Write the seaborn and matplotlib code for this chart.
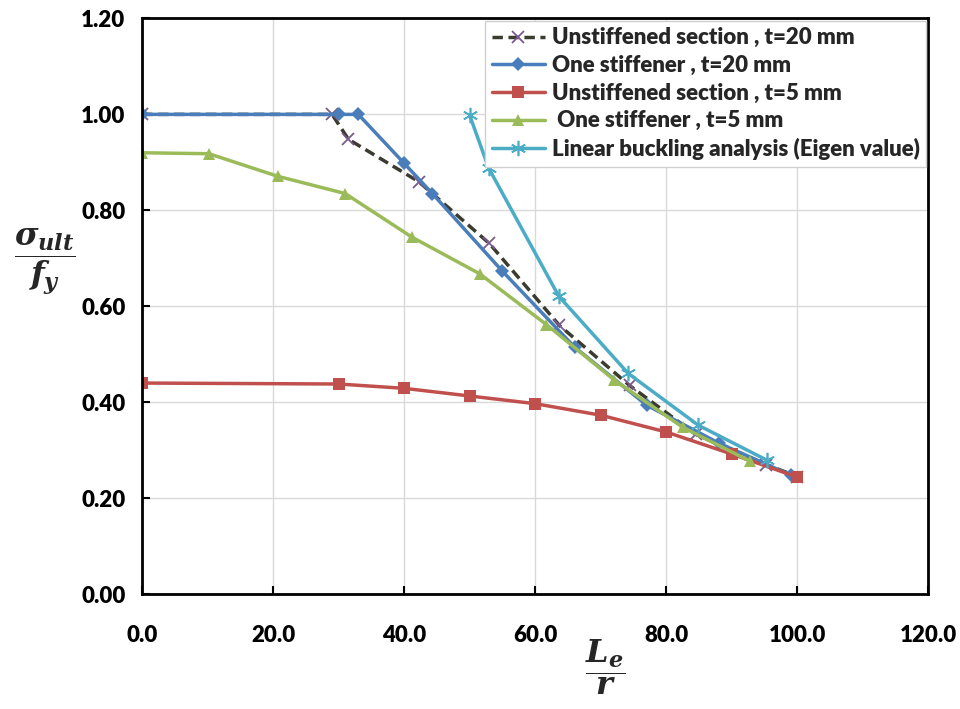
import seaborn as sns
import matplotlib.pyplot as plt

# L_e / r  vs  sigma_ult / f_y
unstiff20_x = [0, 29, 31.5, 42.2, 53, 63.7, 74.4, 84.5, 95.3, 100]
unstiff20_y = [1.0, 1.0, 0.948, 0.86, 0.731, 0.56, 0.435, 0.333, 0.27, 0.245]

stiff20_x = [0, 30, 33, 40, 44.3, 55, 66, 77, 88, 99]
stiff20_y = [1.0, 1.0, 1.0, 0.898, 0.835, 0.673, 0.515, 0.394, 0.315, 0.248]

unstiff5_x = [0, 30, 40, 50, 60, 70, 80, 90, 100]
unstiff5_y = [0.44, 0.438, 0.429, 0.413, 0.397, 0.373, 0.338, 0.292, 0.244]

stiff5_x = [0, 10.2, 20.7, 31, 41.2, 51.5, 61.7, 72.1, 82.5, 92.8]
stiff5_y = [0.92, 0.918, 0.871, 0.835, 0.744, 0.668, 0.562, 0.446, 0.348, 0.277]

eigen_x = [50, 52.9, 63.6, 74.2, 84.9, 95.4]
eigen_y = [0.998, 0.888, 0.621, 0.46, 0.352, 0.279]

labels = ['Unstiffened section , t=20 mm', 'One stiffener , t=20 mm',
          'Unstiffened section , t=5 mm', ' One stiffener , t=5 mm',
          'Linear buckling analysis (Eigen value)']

x_ticks = [0, 20, 40, 60, 80, 100, 120]
y_ticks = [0.0, 0.2, 0.4, 0.6, 0.8, 1.0, 1.2]

sns.set_theme(style="white")
plt.rcParams['font.family'] = ['Lato', 'DejaVu Sans']
plt.rcParams['mathtext.fontset'] = 'custom'
plt.rcParams['mathtext.it'] = 'DejaVu Serif:italic:bold'
plt.rcParams['mathtext.rm'] = 'DejaVu Serif:bold'

fig = plt.figure(figsize=(9.6, 7.09), dpi=100)
ax = fig.add_axes([0.148, 0.162, 0.819, 0.812])

lw = 2.5
sns.lineplot(x=unstiff20_x, y=unstiff20_y, ax=ax, sort=False, color='#3b3b2f',
             linestyle=(0, (3, 1.6)), lw=lw, marker='x', markersize=8,
             markeredgecolor='#7a5a8c', markeredgewidth=1.3, label=labels[0])
sns.lineplot(x=stiff20_x, y=stiff20_y, ax=ax, sort=False, color='#4a7ebb',
             lw=lw, marker='D', markersize=7, markeredgewidth=0, label=labels[1])
sns.lineplot(x=unstiff5_x, y=unstiff5_y, ax=ax, sort=False, color='#c0504d',
             lw=lw, marker='s', markersize=9, markeredgewidth=0, label=labels[2])
sns.lineplot(x=stiff5_x, y=stiff5_y, ax=ax, sort=False, color='#9bbb59',
             lw=lw, marker='^', markersize=9, markeredgewidth=0, label=labels[3])
sns.lineplot(x=eigen_x, y=eigen_y, ax=ax, sort=False, color='#4bacc6',
             lw=lw, marker=(6, 2, 0), markersize=11, markeredgewidth=1.2,
             markeredgecolor='#4bacc6', label=labels[4])

ax.set_xlim(0, 120)
ax.set_ylim(0, 1.2)
ax.set_xticks(x_ticks)
ax.set_yticks(y_ticks)
ax.set_xticklabels([f'{v:.1f}' for v in x_ticks])
ax.set_yticklabels([f'{v:.2f}' for v in y_ticks])
ax.grid(True, color='#d9d9d9', lw=1)
ax.set_axisbelow(True)
ax.tick_params(axis='y', direction='in', length=6, width=1.5, colors='black',
               labelsize=16, pad=12, left=True)
ax.tick_params(axis='x', direction='in', length=6, width=1.5, colors='black',
               labelsize=16, pad=22, bottom=True)
for lab in ax.get_xticklabels() + ax.get_yticklabels():
    lab.set_fontweight('heavy')
for sp in ax.spines.values():
    sp.set_color('black')
    sp.set_linewidth(2)
ax.set_xlabel('')
ax.set_ylabel('')

fig.text(0.047, 0.63, r'$\dfrac{\sigma_{ult}}{f_y}$', fontsize=23,
         ha='center', va='center')
fig.text(0.63, 0.058, r'$\dfrac{L_e}{r}$', fontsize=23,
         ha='center', va='center')

leg = ax.legend(loc='upper right', bbox_to_anchor=(1.0, 1.0), frameon=True,
                fancybox=False, edgecolor='#d0d0d0', framealpha=1,
                prop={'weight': 'heavy', 'size': 16}, handlelength=2.4,
                handletextpad=0.3, borderpad=0.3, labelspacing=0.3,
                borderaxespad=0.1)
leg.get_frame().set_linewidth(1)

fig.savefig('out.png', dpi=100)
